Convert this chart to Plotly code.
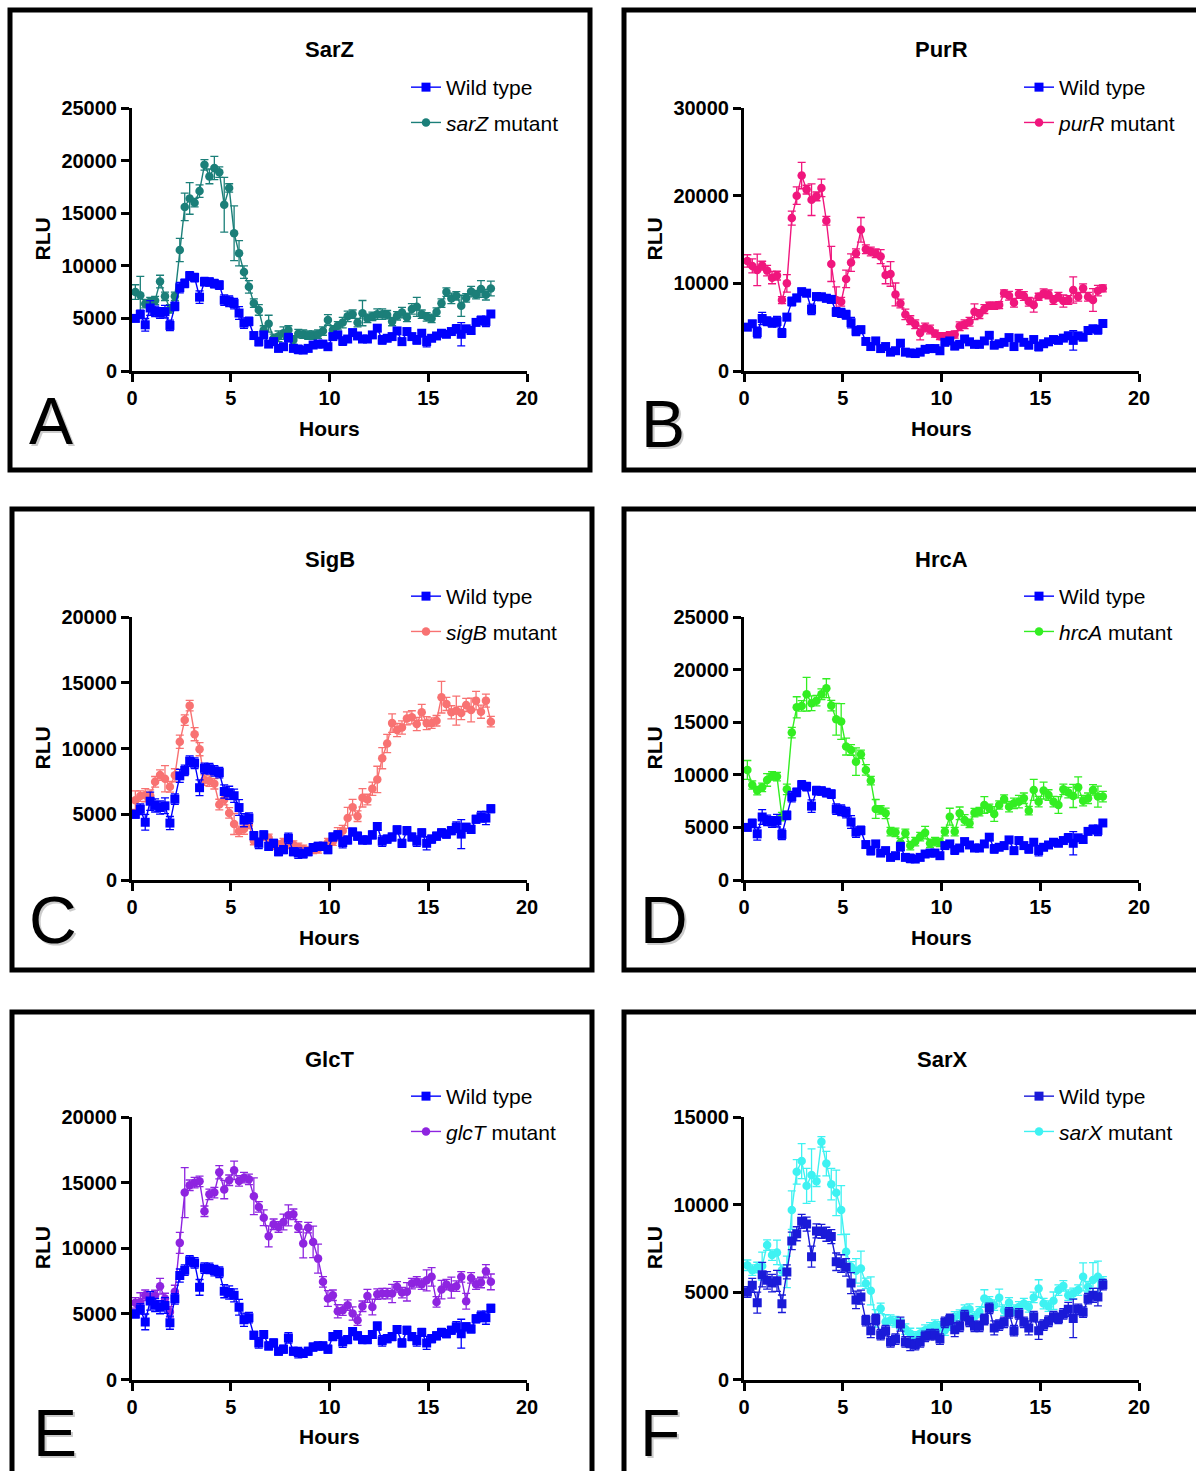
import plotly.graph_objects as go

W, H = 1196, 1471


def px(x):
    return x / W


def py(y):
    return 1 - y / H


# ---------------- data ----------------
hours = [0.17, 0.42, 0.67, 0.92, 1.17, 1.42, 1.67, 1.92, 2.17, 2.42,
         2.67, 2.92, 3.17, 3.42, 3.67, 3.92, 4.17, 4.42, 4.67, 4.92,
         5.17, 5.42, 5.67, 5.92, 6.17, 6.42, 6.67, 6.92, 7.17, 7.42,
         7.67, 7.92, 8.17, 8.42, 8.67, 8.92, 9.17, 9.42, 9.67, 9.92,
         10.17, 10.42, 10.67, 10.92, 11.17, 11.42, 11.67, 11.92, 12.17, 12.42,
         12.67, 12.92, 13.17, 13.42, 13.67, 13.92, 14.17, 14.42, 14.67, 14.92,
         15.17, 15.42, 15.67, 15.92, 16.17, 16.42, 16.67, 16.92, 17.17, 17.42,
         17.67, 17.92, 18.17]

wild_type = [5000, 5380, 4390, 5990, 5670, 5510, 5640, 4330, 6150, 7920,
             8330, 9040, 8880, 7020, 8490, 8460, 8300, 8170, 6730, 6630,
             6410, 5510, 4550, 4710, 3370, 2790, 3430, 2560, 2790, 2150,
             2310, 3170, 2150, 2050, 1990, 2150, 2470, 2560, 2560, 2310,
             3270, 3430, 2850, 3040, 3650, 3330, 3040, 3040, 3430, 4070,
             2950, 3110, 3270, 3810, 2790, 3750, 3270, 2950, 3590, 2790,
             3110, 3330, 3590, 3490, 3750, 4010, 3490, 4010, 3850, 4620,
             4810, 4710, 5420]
wild_type_err = [300, 400, 600, 700, 500, 500, 600, 500, 400, 500,
                 400, 400, 400, 600, 400, 400, 400, 400, 500, 500,
                 500, 600, 500, 400, 300, 400, 300, 300, 300, 300,
                 300, 400, 300, 400, 300, 300, 300, 300, 300, 300,
                 300, 300, 400, 300, 300, 300, 300, 300, 300, 300,
                 400, 300, 300, 300, 300, 300, 300, 400, 300, 500,
                 300, 300, 300, 300, 300, 400, 1100, 300, 300, 300,
                 400, 500, 300]

sarZ = [7500, 7200, 6400, 6600, 6700, 8500, 7100, 5900, 7100, 11500,
        15600, 16400, 16000, 17100, 19600, 18500, 19300, 18900, 15800, 17400,
        13100, 11200, 9400, 8000, 6450, 5800, 3900, 4500, 3100, 3300,
        3600, 3900, 2950, 3550, 3500, 3400, 3400, 3500, 3800, 4850,
        3900, 4300, 4600, 5200, 5400, 4600, 5500, 5000, 5200, 5400,
        5400, 5350, 4700, 5250, 5550, 5100, 5900, 6100, 5400, 5150,
        5000, 5600, 6450, 7500, 6900, 7150, 6200, 6950, 7550, 7250,
        7800, 7250, 7850]
sarZ_err = [700, 1800, 400, 400, 400, 600, 400, 400, 400, 1100,
            1300, 1500, 400, 600, 500, 700, 1100, 500, 2600, 400,
            2600, 1200, 600, 600, 400, 500, 400, 800, 400, 500,
            600, 400, 400, 400, 400, 400, 400, 400, 400, 500,
            400, 400, 500, 500, 400, 400, 1200, 400, 400, 500,
            500, 400, 400, 400, 500, 400, 500, 900, 400, 400,
            400, 400, 400, 400, 500, 400, 1000, 400, 500, 400,
            800, 500, 700]

purR = [12560, 11990, 11530, 12020, 11450, 10650, 10880, 8090, 10000, 17440,
        20000, 22290, 20690, 19540, 19920, 20880, 17140, 12210, 8090, 7900,
        10500, 12370, 13440, 16110, 13890, 13630, 13440, 13050, 10950, 11070,
        8740, 7710, 6450, 5800, 5340, 4350, 4960, 4730, 4270, 3970,
        3970, 4080, 4160, 5110, 5340, 5610, 6760, 6490, 7060, 7440,
        7440, 7520, 8860, 8590, 7790, 8780, 8550, 7900, 7520, 8470,
        8860, 8740, 8090, 8470, 7980, 8090, 9240, 8470, 9430, 8470,
        8090, 9160, 9430]
purR_err = [700, 800, 1800, 500, 600, 700, 500, 400, 1000, 800,
            1000, 1500, 500, 1800, 500, 1000, 500, 2000, 1500, 500,
            1000, 1000, 500, 1400, 500, 500, 500, 800, 1000, 1400,
            1300, 500, 600, 500, 500, 800, 500, 500, 400, 400,
            400, 400, 400, 500, 500, 500, 900, 500, 500, 400,
            400, 400, 400, 500, 500, 500, 500, 500, 800, 400,
            500, 500, 500, 500, 700, 500, 1500, 500, 500, 500,
            1300, 600, 400]

sigB = [6070, 6380, 6450, 6450, 7470, 7980, 7700, 7090, 7960, 10510,
        12160, 13260, 11090, 9950, 7600, 7520, 7320, 5740, 6120, 5100,
        4260, 3700, 3880, 4210, 2980, 2860, 3320, 3190, 2630, 2680,
        2860, 2680, 2680, 2500, 2350, 2220, 2300, 2350, 2550, 2860,
        2930, 3490, 3750, 4720, 5530, 4850, 6250, 6120, 6940, 7650,
        9260, 10380, 11930, 11400, 11600, 12290, 12370, 11860, 12750, 11930,
        11930, 12110, 13900, 13390, 12750, 12880, 12700, 13310, 12930, 13640,
        12800, 13640, 12040]
sigB_err = [700, 400, 500, 400, 400, 400, 1000, 400, 500, 500,
            400, 400, 500, 500, 400, 400, 400, 400, 400, 400,
            800, 400, 400, 300, 300, 300, 300, 300, 300, 300,
            300, 300, 300, 300, 300, 300, 300, 300, 300, 300,
            300, 500, 400, 800, 600, 400, 700, 400, 500, 1000,
            800, 700, 700, 500, 500, 500, 500, 500, 600, 500,
            400, 400, 1200, 500, 500, 1100, 500, 500, 900, 700,
            500, 500, 400]

hrcA = [10460, 9030, 8500, 8810, 9510, 9890, 9830, 6020, 8620, 14010,
        16420, 16550, 17660, 16800, 17050, 17660, 18230, 16580, 15280, 15060,
        12680, 12360, 11250, 11950, 10460, 9450, 6750, 6660, 6340, 4600,
        4530, 3550, 4440, 3270, 3650, 4120, 4500, 3490, 3650, 3580,
        4600, 6020, 4600, 6340, 5710, 5390, 6400, 6500, 7130, 6820,
        6280, 7130, 7700, 6970, 7290, 7450, 7770, 6590, 8560, 7450,
        8500, 8080, 7450, 7130, 8620, 8310, 7990, 8810, 7540, 7770,
        8560, 7930, 7930]
hrcA_err = [900, 400, 400, 400, 600, 400, 400, 400, 500, 500,
            1000, 500, 1600, 700, 500, 500, 900, 500, 1500, 1700,
            800, 500, 1300, 400, 500, 400, 900, 400, 500, 400,
            400, 400, 400, 400, 400, 400, 600, 400, 400, 400,
            400, 800, 400, 600, 500, 400, 400, 400, 800, 400,
            700, 400, 400, 500, 500, 600, 500, 400, 1000, 500,
            800, 500, 500, 800, 500, 500, 1100, 1000, 500, 500,
            500, 1000, 500]

glcT = [5840, 5910, 6420, 6170, 6400, 7110, 6170, 5150, 6680, 10410,
        14240, 14800, 15000, 15100, 12820, 14110, 14240, 15790, 14470, 15180,
        15940, 15130, 15380, 15250, 13960, 13150, 12330, 10910, 11830, 11620,
        12000, 12510, 12590, 11620, 10360, 11570, 10480, 9210, 7440, 6170,
        6420, 5200, 5280, 5660, 5030, 4520, 5580, 6370, 5530, 6500,
        6550, 6550, 6550, 7060, 6620, 6680, 7310, 7440, 7260, 7560,
        7820, 5910, 6850, 7230, 7000, 7110, 7820, 5960, 7740, 7260,
        7390, 8250, 7440]
glcT_err = [400, 700, 400, 400, 400, 600, 400, 400, 500, 800,
            1900, 400, 400, 400, 400, 400, 400, 500, 700, 400,
            700, 400, 400, 400, 1400, 400, 600, 800, 400, 400,
            600, 800, 400, 400, 1100, 400, 1200, 1100, 400, 600,
            400, 500, 400, 400, 500, 400, 400, 500, 600, 400,
            400, 400, 700, 400, 400, 700, 400, 400, 400, 800,
            700, 400, 700, 400, 800, 400, 400, 600, 400, 400,
            400, 500, 600]

sarX = [6530, 6250, 6400, 6480, 7680, 7110, 7260, 6250, 6150, 9680,
        11870, 12480, 11070, 11680, 11330, 13580, 12340, 11160, 10670, 9680,
        7300, 6440, 6210, 6340, 5490, 5070, 3490, 4060, 3300, 3390,
        3300, 3160, 2880, 2630, 2440, 2630, 2820, 2950, 3110, 3010,
        2820, 3110, 3580, 3680, 3960, 4020, 3580, 3870, 4630, 4440,
        4250, 4670, 3960, 4380, 3960, 4150, 4340, 4150, 4690, 5200,
        4340, 4190, 4500, 5110, 5350, 4820, 4920, 5110, 5870, 5300,
        5680, 5870, 5580]
sarX_err = [300, 300, 300, 800, 300, 300, 700, 300, 900, 1100,
            700, 1000, 1000, 1500, 300, 300, 700, 900, 1300, 1400,
            1000, 300, 700, 1000, 300, 800, 500, 300, 400, 300,
            300, 300, 300, 300, 300, 300, 300, 300, 300, 300,
            300, 300, 300, 300, 300, 300, 300, 300, 500, 300,
            300, 500, 300, 300, 300, 300, 300, 300, 300, 500,
            300, 300, 500, 300, 300, 300, 300, 300, 800, 300,
            1000, 900, 300]

panel_titles = ["SarZ", "PurR", "SigB", "HrcA", "GlcT", "SarX"]
mutant_names = ["<i>sarZ</i> mutant", "<i>purR</i> mutant", "<i>sigB</i> mutant",
                "<i>hrcA</i> mutant", "<i>glcT</i> mutant", "<i>sarX</i> mutant"]
mutant_values = [sarZ, purR, sigB, hrcA, glcT, sarX]
mutant_errors = [sarZ_err, purR_err, sigB_err, hrcA_err, glcT_err, sarX_err]
panel_letters = ["A", "B", "C", "D", "E", "F"]
y_max = [25000, 30000, 20000, 25000, 20000, 15000]
y_step = [5000, 10000, 5000, 5000, 5000, 5000]
x_ticks = [0, 5, 10, 15, 20]

# ---------------- style / layout ----------------
mutant_colors = ["#1B7F79", "#F0167D", "#F87272", "#33EE22", "#8E24E0", "#3EF2F2"]
wt_colors = ["#0000FF", "#0000FF", "#0000FF", "#0000FF", "#0000FF", "#1A1AD8"]
FONT = "Liberation Sans, Arial, sans-serif"

cols = [(132, 527), (744, 1139)]
rows = [(108, 371), (617, 880), (1117, 1379.5)]
boxes = [(10, 10, 590, 470), (624, 10, 1212, 470),
         (12, 509, 592, 970), (624, 509, 1212, 970),
         (12, 1012, 592, 1495), (624, 1012, 1212, 1495)]
letter_pos = [(51, 421), (663, 424), (53, 920), (664, 920), (55, 1433), (660, 1433)]

fig = go.Figure()
layout = dict(
    width=W, height=H,
    margin=dict(l=0, r=0, t=0, b=0, pad=0, autoexpand=False),
    paper_bgcolor="white", plot_bgcolor="white",
    font=dict(family=FONT, color="black"),
    showlegend=True,
)
annotations = []
shapes = []

for i in range(6):
    r, c = divmod(i, 2)
    x0, x1 = cols[c]
    y0, y1 = rows[r]
    n = "" if i == 0 else str(i + 1)
    xa, ya = "x" + n, "y" + n
    leg = "legend" + n

    layout["xaxis" + n] = dict(
        domain=[px(x0), px(x1)], anchor=ya, range=[0, 20], tickvals=x_ticks,
        showline=True, linewidth=3, linecolor="black", ticks="outside",
        ticklen=8, tickwidth=3, tickcolor="black", showgrid=False, zeroline=False,
        tickfont=dict(family=FONT, size=20, weight="bold", color="black"),
        ticklabelstandoff=-1,
    )
    layout["yaxis" + n] = dict(
        domain=[py(y1), py(y0)], anchor=xa, range=[0, y_max[i]], dtick=y_step[i],
        tick0=0, tickformat="d",
        showline=True, linewidth=3, linecolor="black", ticks="outside",
        ticklen=8, tickwidth=3, tickcolor="black", showgrid=False, zeroline=False,
        tickfont=dict(family=FONT, size=20, weight="bold", color="black"),
        ticklabelstandoff=0,
    )
    lx = 406 if c == 0 else 1019
    ly = [67, 576, 1076][r]
    layout[leg] = dict(
        x=px(lx), y=py(ly), xanchor="left", yanchor="top",
        bgcolor="rgba(0,0,0,0)", borderwidth=0,
        font=dict(family=FONT, size=21, color="black"),
        traceorder="grouped", tracegroupgap=5, itemwidth=30,
    )

    fig.add_trace(go.Scatter(
        x=hours, y=mutant_values[i], xaxis=xa, yaxis=ya, mode="lines+markers",
        name=mutant_names[i], legend=leg, legendgroup=f"m{i}", legendrank=2,
        line=dict(color=mutant_colors[i], width=1.4),
        marker=dict(symbol="circle", size=8.5, color=mutant_colors[i]),
        error_y=dict(type="data", array=mutant_errors[i], visible=True,
                     color=mutant_colors[i], thickness=1.3, width=4),
    ))
    fig.add_trace(go.Scatter(
        x=hours, y=wild_type, xaxis=xa, yaxis=ya, mode="lines+markers",
        name="Wild type", legend=leg, legendgroup=f"w{i}", legendrank=1,
        line=dict(color=wt_colors[i], width=1.4),
        marker=dict(symbol="square", size=9, color=wt_colors[i]),
        error_y=dict(type="data", array=wild_type_err, visible=True,
                     color=wt_colors[i], thickness=1.3, width=4),
    ))

    cx = (x0 + x1) / 2
    annotations.append(dict(text="<b>" + panel_titles[i] + "</b>", x=px(cx), y=py(y0 - 58),
                            xref="paper", yref="paper", showarrow=False,
                            font=dict(family=FONT, size=22, color="black"),
                            xanchor="center", yanchor="middle"))
    annotations.append(dict(text="<b>Hours</b>", x=px(cx), y=py(y1 + 57),
                            xref="paper", yref="paper", showarrow=False,
                            font=dict(family=FONT, size=21, color="black"),
                            xanchor="center", yanchor="middle"))
    annotations.append(dict(text="<b>RLU</b>", x=px(x0 - 90), y=py((y0 + y1) / 2),
                            xref="paper", yref="paper", showarrow=False, textangle=-90,
                            font=dict(family=FONT, size=21, color="black"),
                            xanchor="center", yanchor="middle"))
    lxp, lyp = letter_pos[i]
    annotations.append(dict(text=panel_letters[i], x=px(lxp + 1.5), y=py(lyp + 1.5),
                            xref="paper", yref="paper", showarrow=False,
                            font=dict(family=FONT, size=66, color="#CCCCCC"),
                            xanchor="center", yanchor="middle"))
    annotations.append(dict(text=panel_letters[i], x=px(lxp), y=py(lyp),
                            xref="paper", yref="paper", showarrow=False,
                            font=dict(family=FONT, size=66, color="black"),
                            xanchor="center", yanchor="middle"))
    bx0, by0, bx1, by1 = boxes[i]
    shapes.append(dict(type="rect", xref="paper", yref="paper",
                       x0=px(bx0), x1=px(bx1), y0=py(by1), y1=py(by0),
                       line=dict(color="black", width=5), fillcolor="rgba(0,0,0,0)"))

layout["annotations"] = annotations
layout["shapes"] = shapes
fig.update_layout(**layout)
fig.write_html("out.html")
